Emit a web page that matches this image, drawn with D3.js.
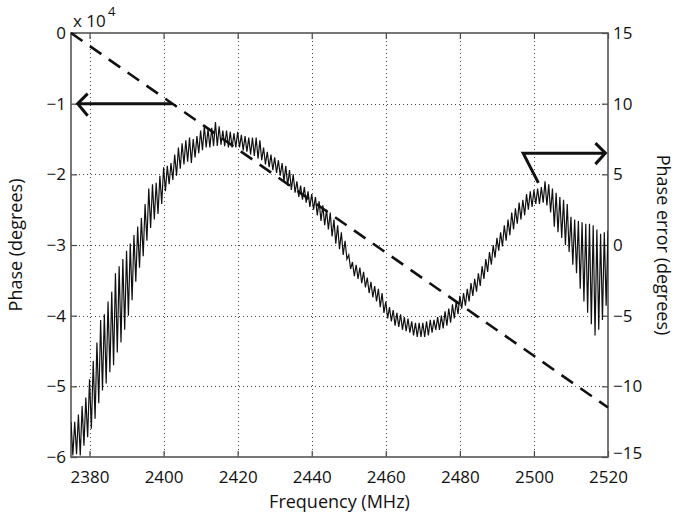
<!DOCTYPE html>
<html>
<head>
<meta charset="utf-8">
<script src="https://cdn.jsdelivr.net/npm/d3@7"></script>
<style>
  html, body { margin: 0; padding: 0; background: #fff; }
  svg { display: block; }
  text { font-family: "Open Sans", "Noto Sans", sans-serif; fill: #111; }
</style>
</head>
<body>
<svg id="chart" width="675" height="519"></svg>
<script>
// ---------- data ----------
const xTicks = [2380, 2400, 2420, 2440, 2460, 2480, 2500, 2520];
const yLeftTicks = [0, -10000, -20000, -30000, -40000, -50000, -60000];
const yRightTicks = [15, 10, 5, 0, -5, -10, -15];

// ideal (linear) phase, degrees, left axis
const phaseFreq = [2375, 2520];
const phaseDeg = [0, -53000];

// phase error, degrees, right axis: sampled every 0.5 MHz from 2375 MHz
const errStartMHz = 2375;
const errStepMHz = 0.5;
const errorDeg = [
-12.5,-14.9, -12.5,-14.8, -12.0,-14.9, -11.4,-14.2, -10.8,-13.6,
-9.5,-13.0, -8.2,-12.3, -6.9,-11.2, -5.3,-10.3, -4.9,-9.8,
-4.0,-9.0, -3.3,-8.5, -2.0,-7.6, -1.5,-6.9, -1.0,-6.0,
-0.4,-5.0, 0.1,-3.9, 0.7,-2.6, 1.3,-1.6, 1.9,-0.8,
2.9,0.3, 4.0,1.2, 4.3,1.8, 4.4,2.2, 4.9,2.9,
5.5,3.8, 5.6,4.3, 5.8,4.6, 6.4,4.9, 6.9,5.4,
7.2,5.7, 7.4,5.9, 7.6,5.8, 7.5,6.2, 7.7,6.5,
8.1,6.7, 8.4,6.9, 8.2,6.9, 8.3,7.0, 8.7,7.0,
8.4,7.1, 8.1,7.0, 8.1,6.9, 8.0,6.9, 7.9,6.9,
8.0,6.9, 7.8,6.7, 7.7,6.6, 7.6,6.4, 7.6,6.3,
7.6,6.1, 7.4,6.0, 6.9,5.7, 6.6,5.5, 6.4,5.3,
6.2,5.1, 6.0,4.9, 5.8,4.5, 5.6,4.2, 5.3,3.9,
5.0,3.7, 4.5,3.4, 4.2,3.2, 4.1,3.0, 3.8,2.7,
3.6,2.5, 3.4,2.1, 3.1,1.7, 2.8,1.4, 2.5,1.1,
2.3,0.6, 1.8,0.1, 1.4,-0.3, 0.9,-0.7, 0.3,-1.0,
-0.7,-1.7, -1.2,-2.2, -1.4,-2.4, -1.6,-2.7, -1.9,-3.0,
-2.3,-3.4, -2.6,-3.7, -2.9,-4.0, -3.1,-4.4, -3.4,-4.8,
-4.0,-5.2, -4.4,-5.4, -4.6,-5.7, -4.8,-5.8, -4.9,-6.0,
-5.1,-6.1, -5.2,-6.2, -5.4,-6.4, -5.5,-6.5, -5.5,-6.5,
-5.5,-6.5, -5.4,-6.4, -5.3,-6.2, -5.3,-6.0, -5.1,-6.0,
-5.0,-5.9, -4.7,-5.7, -4.5,-5.5, -4.2,-5.2, -4.0,-4.9,
-3.6,-4.5, -3.4,-4.3, -3.1,-4.0, -2.7,-3.6, -2.4,-3.3,
-2.0,-2.9, -1.5,-2.4, -1.0,-1.9, -0.5,-1.4, 0.0,-0.9,
0.5,-0.4, 0.9,-0.1, 1.4,0.3, 1.8,0.7, 2.3,1.1,
2.6,1.5, 3.0,1.8, 3.2,2.1, 3.6,2.5, 3.8,2.7,
3.9,2.9, 4.0,2.9, 4.1,3.0, 4.5,2.8, 4.3,2.3,
4.0,1.3, 3.7,0.9, 3.4,0.5, 3.2,0.0, 2.9,-0.5,
2.0,-1.4, 1.8,-2.0, 1.7,-3.1, 1.6,-4.0, 1.5,-4.8,
1.5,-5.6, 1.4,-6.4, 1.1,-6.0, 0.8,-5.3, 0.9,-4.3,
1.0
];

// annotation arrows (data coordinates)
const leftArrowFreq = [2402.3, 2376.8];   // at phase -1e4
const leftArrowPhase = -10000;
const rightArrowFreq = [2501.2, 2497.1, 2519.3]; // slant start, corner, tip
const rightArrowErr = [4.4, 6.5, 6.5];

// ---------- layout ----------
const svg = d3.select("#chart");
const L = 71, R = 608, T = 33, B = 457;

const x = d3.scaleLinear().domain([2375, 2520]).range([L, R]);
const yL = d3.scaleLinear().domain([-60000, 0]).range([B, T]);
const yR = d3.scaleLinear().domain([-15, 15]).range([B, T]);

const minus = s => String(s).replace("-", "\u2212");

// grid
const grid = svg.append("g").attr("stroke", "#444").attr("stroke-width", 1)
  .attr("stroke-dasharray", "1,3");
grid.selectAll(".gx").data(xTicks.filter(d => d > 2375 && d < 2520)).join("line")
  .attr("x1", d => Math.round(x(d)) + 0.5).attr("x2", d => Math.round(x(d)) + 0.5)
  .attr("y1", T).attr("y2", B);
grid.selectAll(".gy").data(yLeftTicks.filter(d => d < 0 && d > -60000)).join("line")
  .attr("y1", d => Math.round(yL(d)) + 0.5).attr("y2", d => Math.round(yL(d)) + 0.5)
  .attr("x1", L).attr("x2", R);

// axes
function styleAxis(g) {
  g.select(".domain").remove();
  g.selectAll(".tick line").attr("stroke", "#444").attr("stroke-width", 1.2);
  g.selectAll(".tick text").attr("font-size", 17).attr("fill", "#111")
    .attr("font-family", '"Open Sans", sans-serif');
}
svg.append("g").attr("transform", `translate(0,${B})`)
  .call(d3.axisBottom(x).tickValues(xTicks).tickSize(-6).tickPadding(14).tickFormat(d3.format("d")))
  .call(styleAxis);
svg.append("g").attr("transform", `translate(0,${T})`)
  .call(d3.axisTop(x).tickValues(xTicks).tickSize(-6).tickFormat(""))
  .call(styleAxis);
svg.append("g").attr("transform", `translate(${L},0)`)
  .call(d3.axisLeft(yL).tickValues(yLeftTicks).tickSize(-6).tickPadding(5)
    .tickFormat(d => minus(d / 10000)))
  .call(styleAxis);
const rAxis = svg.append("g").attr("transform", `translate(${R},0)`)
  .call(d3.axisRight(yR).tickValues(yRightTicks).tickSize(-6).tickPadding(5)
    .tickFormat(d => minus(d)))
  .call(styleAxis);
rAxis.selectAll(".tick text").filter(d => d === -15).attr("dy", "0.1em");

// box
svg.append("rect").attr("x", L).attr("y", T).attr("width", R - L).attr("height", B - T)
  .attr("fill", "none").attr("stroke", "#555").attr("stroke-width", 1.6);

// clip
svg.append("clipPath").attr("id", "plotclip").append("rect")
  .attr("x", L).attr("y", T - 1).attr("width", R - L).attr("height", B - T + 2);

// phase error (noisy curve)
const errPts = errorDeg.map((v, i) => [errStartMHz + i * errStepMHz, v]);
svg.append("path").datum(errPts)
  .attr("clip-path", "url(#plotclip)")
  .attr("fill", "none").attr("stroke", "#111").attr("stroke-width", 1.2)
  .attr("stroke-linejoin", "miter")
  .attr("d", d3.line().x(d => x(d[0])).y(d => yR(d[1])));

// ideal phase dashed line
const phasePts = phaseFreq.map((f, i) => [f, phaseDeg[i]]);
svg.append("path").datum(phasePts)
  .attr("fill", "none").attr("stroke", "#111").attr("stroke-width", 2.6)
  .attr("stroke-dasharray", "14,9")
  .attr("d", d3.line().x(d => x(d[0])).y(d => yL(d[1])));

// arrows
const arr = svg.append("g").attr("fill", "none").attr("stroke", "#111")
  .attr("stroke-width", 3).attr("stroke-linecap", "butt").attr("stroke-linejoin", "miter");
const la0 = [x(leftArrowFreq[0]), yL(leftArrowPhase)];
const la1 = [x(leftArrowFreq[1]), yL(leftArrowPhase)];
arr.append("path").attr("d", d3.line()([la0, la1]));
arr.append("path").attr("d", d3.line()([[la1[0] + 10, la1[1] - 10], la1, [la1[0] + 10, la1[1] + 12]]));

const ra = rightArrowFreq.map((f, i) => [x(f), yR(rightArrowErr[i])]);
arr.append("path").attr("d", d3.line()(ra));
arr.append("path").attr("d", d3.line()([[ra[2][0] - 10, ra[2][1] - 10], ra[2], [ra[2][0] - 10, ra[2][1] + 11]]));

// exponent label
svg.append("text").attr("x", 73).attr("y", 27).attr("font-size", 17).text("x 10");
svg.append("text").attr("x", 108).attr("y", 16).attr("font-size", 13).text("4");

// axis titles
svg.append("text").attr("x", (L + R) / 2).attr("y", 508).attr("text-anchor", "middle")
  .attr("font-size", 18).text("Frequency (MHz)");
svg.append("text").attr("transform", `translate(22,${(T + B) / 2}) rotate(-90)`)
  .attr("text-anchor", "middle").attr("font-size", 18).text("Phase (degrees)");
svg.append("text").attr("transform", `translate(657,${(T + B) / 2}) rotate(90)`)
  .attr("text-anchor", "middle").attr("font-size", 18).text("Phase error (degrees)");
</script>
</body>
</html>
